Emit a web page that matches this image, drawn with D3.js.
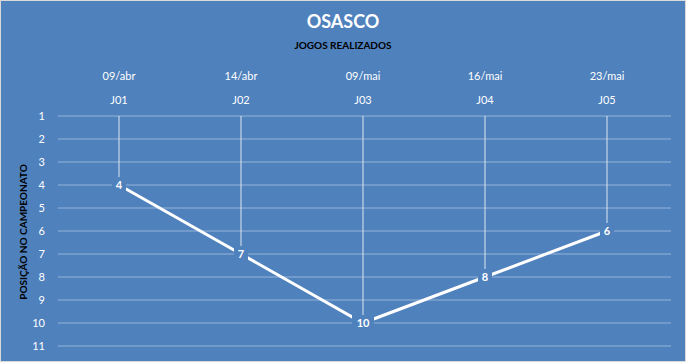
<!DOCTYPE html>
<meta charset="utf-8">
<script src="https://d3js.org/d3.v7.min.js"></script>
<style>
    body { margin: 0; }
    svg { font-family: Lato, "Open Sans", sans-serif; }
</style>
<body>
<div id="chart"></div>
<script>
    var jogos = ["J01", "J02", "J03", "J04", "J05"]
    var datas = ["09/abr", "14/abr", "09/mai", "16/mai", "23/mai"]
    var posicoes = [4, 7, 10, 8, 6]
    var yTicks = [1, 2, 3, 4, 5, 6, 7, 8, 9, 10, 11]

    const width = 686, height = 362;
    const bg = "#4f81bd";

    var svg = d3.select("#chart").append("svg")
        .attr("width", width)
        .attr("height", height);

    svg.append("rect")
        .attr("x", 0.5).attr("y", 0.5)
        .attr("width", width - 1).attr("height", height - 1)
        .attr("fill", bg)
        .attr("stroke", "#d9d9d9");

    var x = d3.scaleBand().domain(jogos).range([58, 668]);
    var y = d3.scaleLinear().domain([1, 11]).range([116, 346]);

    // gridlines
    svg.append("g").selectAll("line")
        .data(yTicks)
        .join("line")
        .attr("x1", 58).attr("x2", 671)
        .attr("y1", d => y(d)).attr("y2", d => y(d))
        .attr("stroke", "#95b3d7")
        .attr("stroke-width", 1);

    // y axis labels
    svg.append("g").selectAll("text")
        .data(yTicks)
        .join("text")
        .attr("x", 45)
        .attr("y", d => y(d) + 4)
        .attr("text-anchor", "end")
        .attr("fill", "white")
        .attr("font-size", 11)
        .text(d => d);

    // drop lines
    svg.append("g").selectAll("line")
        .data(posicoes)
        .join("line")
        .attr("x1", (d, i) => x(jogos[i]) + x.bandwidth() / 2)
        .attr("x2", (d, i) => x(jogos[i]) + x.bandwidth() / 2)
        .attr("y1", y(1))
        .attr("y2", d => y(d))
        .attr("stroke", "#dce6f2")
        .attr("stroke-width", 1);

    var line = d3.line()
        .x((d, i) => x(jogos[i]) + x.bandwidth() / 2)
        .y(d => y(d));

    svg.append("path")
        .datum(posicoes)
        .attr("d", line)
        .attr("fill", "none")
        .attr("stroke", "white")
        .attr("stroke-width", 3);

    // data labels with background
    var lbl = svg.append("g").selectAll("g")
        .data(posicoes)
        .join("g")
        .attr("transform", (d, i) => "translate(" + (x(jogos[i]) + x.bandwidth() / 2) + "," + y(d) + ")");
    lbl.append("rect")
        .attr("x", d => d >= 10 ? -11 : -7)
        .attr("y", -8)
        .attr("width", d => d >= 10 ? 22 : 14)
        .attr("height", 16)
        .attr("fill", bg);
    lbl.append("text")
        .attr("y", 4)
        .attr("text-anchor", "middle")
        .attr("fill", "white")
        .attr("font-size", 11)
        .attr("font-weight", "bold")
        .text(d => d);

    // category labels on top
    svg.append("g").selectAll("text")
        .data(datas)
        .join("text")
        .attr("x", (d, i) => x(jogos[i]) + x.bandwidth() / 2)
        .attr("y", 80)
        .attr("text-anchor", "middle")
        .attr("fill", "white")
        .attr("font-size", 11)
        .text(d => d);
    svg.append("g").selectAll("text")
        .data(jogos)
        .join("text")
        .attr("x", d => x(d) + x.bandwidth() / 2)
        .attr("y", 104)
        .attr("text-anchor", "middle")
        .attr("fill", "white")
        .attr("font-size", 11)
        .text(d => d);

    svg.append("text")
        .attr("x", 343).attr("y", 28)
        .attr("text-anchor", "middle")
        .attr("fill", "white")
        .attr("font-size", 18)
        .attr("font-weight", "bold")
        .text("OSASCO");
    svg.append("text")
        .attr("x", 343).attr("y", 49)
        .attr("text-anchor", "middle")
        .attr("fill", "black")
        .attr("font-size", 10)
        .attr("font-weight", "bold")
        .text("JOGOS REALIZADOS");

    svg.append("text")
        .attr("transform", "translate(27,232) rotate(-90)")
        .attr("text-anchor", "middle")
        .attr("fill", "black")
        .attr("font-size", 10)
        .attr("font-weight", "bold")
        .text("POSIÇÃO  NO CAMPEONATO");
</script>
</body>
